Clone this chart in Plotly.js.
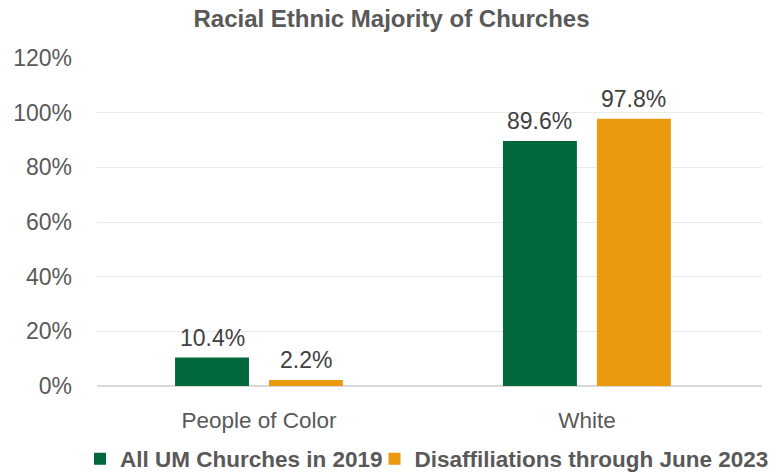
<!DOCTYPE html>
<html>
<head>
<meta charset="utf-8">
<script src="https://cdn.plot.ly/plotly-3.0.1.min.js"></script>
<style>html,body{margin:0;padding:0;background:#fff;}#chart{width:770px;height:476px;}</style>
</head>
<body>
<div id="chart"></div>
<script>
const categories = ["People of Color", "White"];
const seriesNames = ["All UM Churches in 2019", "Disaffiliations through June 2023"];
const allUM2019 = [10.4, 89.6];
const disaffil2023 = [2.2, 97.8];
const yTickVals = [0, 20, 40, 60, 80, 100, 120];
const yTickText = ["0%", "20%", "40%", "60%", "80%", "100%", "120%"];

const FONT = "'Liberation Sans', Arial, sans-serif";
const COLORS = ["#00683A", "#EB9A10"];
function fmt(v){ return v.toFixed(1) + "%"; }

const series = [allUM2019, disaffil2023];
const legendIds = ["legend", "legend2"];
const traces = series.map((vals, s) => ({
  type:"bar", name: seriesNames[s], x: categories, y: vals,
  marker:{color: COLORS[s]}, hoverinfo:"none", legend: legendIds[s]
}));

// value labels placed above each bar (bar slot offset within group)
const slot = 0.1433;
const annotations = [];
series.forEach((vals, s) => {
  vals.forEach((v, i) => {
    annotations.push({
      x: i + (s === 0 ? -slot : slot), y: v, xref:"x", yref:"y",
      text: fmt(v), showarrow:false, yanchor:"middle", yshift:20,
      font:{family:FONT, size:23, color:"#404040"}
    });
  });
});

function legendAt(left){
  return {orientation:"h", xref:"container", yref:"container",
          x:left/770, xanchor:"left", y:1-459/476, yanchor:"middle",
          bgcolor:"rgba(0,0,0,0)",
          font:{family:FONT, size:22.5, color:"#595959", weight:"bold"},
          itemclick:false};
}

const layout = {
  width:770, height:476,
  margin:{l:97, r:8, t:57.5, b:89.5, autoexpand:false},
  paper_bgcolor:"#fff", plot_bgcolor:"#fff",
  font:{family:FONT, color:"#595959"},
  title:{text:"<b>Racial Ethnic Majority of Churches</b>", x:391.5/770, xanchor:"center",
         y:1-18.5/476, yanchor:"middle", font:{family:FONT, size:24, color:"#595959"}},
  barmode:"group", bargap:0.427, bargroupgap:0.213,
  xaxis:{type:"category", range:[-0.494, 1.534], showgrid:false, zeroline:false,
         showline:false, ticks:"", tickfont:{family:FONT, size:22.5, color:"#595959"},
         ticklabelstandoff:18, automargin:false},
  yaxis:{range:[0,120], tickvals:yTickVals, ticktext:yTickText, showgrid:true,
         gridcolor:"#EAEAEA", gridwidth:1, zeroline:true, zerolinecolor:"#D9D9D9",
         zerolinewidth:1.2, showline:false, ticks:"", ticklabelstandoff:24,
         automargin:false, tickfont:{family:FONT, size:23, color:"#595959"}},
  annotations: annotations,
  showlegend:true,
  legend: legendAt(80),
  legend2: legendAt(374.5)
};

Plotly.newPlot("chart", traces, layout, {displayModeBar:false, staticPlot:true});
</script>
</body>
</html>
